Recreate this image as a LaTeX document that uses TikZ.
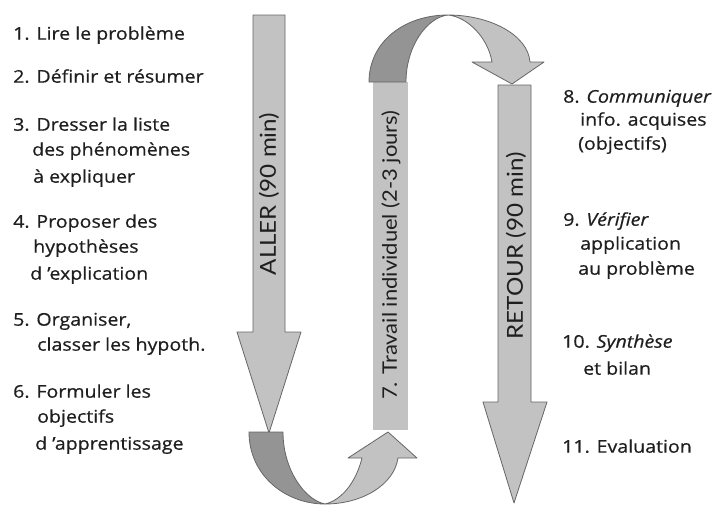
\documentclass[tikz,border=0pt]{standalone}
\usepackage{fontspec}
\setmainfont[FakeStretch=1.12,FakeBold=0.6]{Open Sans}
\newfontfamily\lblfont[FakeStretch=1.1]{Lato}
\begin{document}
\begin{tikzpicture}[x=1pt,y=-1pt,
  txt/.style={anchor=mid west,inner sep=0pt,font=\fontsize{17.5}{20}\selectfont,text=black!88},
  lbl/.style={rotate=90,inner sep=0pt,font=\lblfont\fontsize{20}{22}\selectfont,text=black!88},
  lblcaps/.style={lbl,font=\lblfont\fontsize{22}{24}\selectfont},
  lightpart/.style={fill=black!24,draw=black!60,line width=0.8pt,line join=round},
  darkpart/.style={fill=black!42,draw=black!60,line width=0.8pt,line join=round}]
\useasboundingbox (0,0) rectangle (722,504);
\fill[white] (0,0) rectangle (722,504);
% left texts
\node[txt] (t1) at (13,37) {1. Lire le problème};
\node[txt] (t2) at (13,80) {2. Définir et résumer};
\node[txt] (t3a) at (13,128) {3. Dresser la liste};
\node[txt] (t3b) at (32,153) {des phénomènes};
\node[txt] (t3c) at (33,180) {à expliquer};
\node[txt] (t4a) at (13,225) {4. Proposer des};
\node[txt] (t4b) at (33,250) {hypothèses};
\node[txt] (t4c) at (30,277) {d 'explication};
\node[txt] (t5a) at (13,323) {5. Organiser,};
\node[txt] (t5b) at (37,348) {classer les hypoth.};
\node[txt] (t6a) at (13,395) {6. Formuler les};
\node[txt] (t6b) at (37,420) {objectifs};
\node[txt] (t6c) at (35,447) {d 'apprentissage};
% right texts
\node[txt] (t8a) at (563,100) {8. \textit{Communiquer}};
\node[txt] (t8b) at (580,123) {info. acquises};
\node[txt] (t8c) at (578,147) {(objectifs)};
\node[txt] (t9a) at (563,223) {9. \textit{Vérifier}};
\node[txt] (t9b) at (580,247) {application};
\node[txt] (t9c) at (578,272) {au problème};
\node[txt] (t10a) at (562,345) {10. \textit{Synthèse}};
\node[txt] (t10b) at (583,372) {et bilan};
\node[txt] (t11) at (562,450) {11. Evaluation};
% ALLER arrow
\draw[lightpart] (253,15) -- (285,15) -- (285,332) -- (301,332) -- (269,433) -- (237,332) -- (253,332) -- cycle;
% travail box
\fill[black!24] (373,82) rectangle (408,430);
% RETOUR arrow
\draw[lightpart] (498,85) -- (531,85) -- (531,402) -- (547,402) -- (514,503) -- (483,402) -- (498,402) -- cycle;
% top curved arrow
\draw[darkpart] (369,82) .. controls (369,42) and (404,15) .. (448,15)
   .. controls (428,17) and (406,45) .. (406,82) -- cycle;
\draw[lightpart] (448,15) .. controls (490,15) and (528,35) .. (530,62) -- (544,62) -- (512,84) -- (472,62) -- (492,62)
   .. controls (488,38) and (468,17) .. (448,15) -- cycle;
% bottom curved arrow
\draw[darkpart] (249,432) .. controls (249,475) and (285,504) .. (325,504)
   .. controls (305,500) and (283,470) .. (283,432) -- cycle;
\draw[lightpart] (325,504) .. controls (362,504) and (394,485) .. (398,458) -- (417,458) -- (388,432) -- (348,458) -- (362,458)
   .. controls (356,482) and (342,500) .. (325,504) -- cycle;
% rotated labels
\node[lblcaps] (aller) at (269,194) {ALLER (90 min)};
\node[lbl] (travail) at (391,255) {7. Travail individuel (2-3 jours)};
\node[lblcaps] (retour) at (516,246) {RETOUR (90 min)};
\end{tikzpicture}
\end{document}
